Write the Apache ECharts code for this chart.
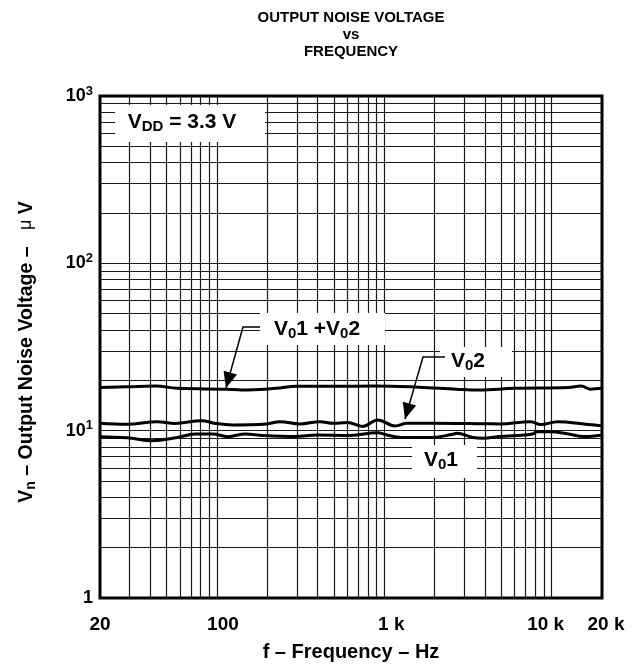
<!DOCTYPE html>
<html><head><meta charset="utf-8">
<script src="https://cdn.jsdelivr.net/npm/echarts@6/dist/echarts.min.js"></script>
<style>html,body{margin:0;padding:0;background:#fff}#c{width:642px;height:668px}</style>
</head><body><div id="c"></div>
<script>
const FONT = '"Liberation Sans", Arial, Helvetica, sans-serif';

const titleLines = ['OUTPUT NOISE VOLTAGE', 'vs', 'FREQUENCY'];
const xTickLabels = {20: '{c|20}', 100: '{r1|100}', 1000: '{r2|1 k}', 10000: '{l1|10 k}', 20000: '{r3|20 k}'};
const yTickLabels = {1: '1', 10: '10{sup|1}', 100: '10{sup|2}', 1000: '10{sup|3}'};

// V01 + V02
const sumFreq = [20, 29, 43, 58, 116, 140, 225, 300, 500, 870, 1600, 2700, 3700, 6000, 12600, 15000, 17000, 20000];
const sumVals = [18.1, 18.3, 18.5, 17.9, 17.7, 17.5, 17.9, 18.4, 18.4, 18.5, 18.2, 17.7, 17.5, 17.9, 18.1, 18.5, 17.7, 17.9];
// V02
const v02Freq = [20, 29, 44, 56, 81, 98, 124, 198, 238, 313, 413, 494, 602, 740, 913, 1160, 1370, 1950, 3900, 4900, 7500, 8600, 10900, 15600, 20000];
const v02Vals = [11.07, 10.92, 11.32, 11.04, 11.48, 11.04, 10.82, 10.96, 11.32, 10.96, 11.32, 11.07, 11.19, 10.6, 11.59, 10.67, 11.07, 11.07, 11.0, 10.96, 11.32, 10.87, 11.32, 10.96, 10.67];
// V01
const v01Freq = [20, 29, 41, 58, 74, 94, 116, 148, 188, 294, 397, 626, 909, 1040, 1250, 1950, 2570, 2710, 3390, 3880, 4920, 6200, 7700, 8200, 9760, 12600, 15600, 20000];
const v01Vals = [9.21, 9.08, 8.71, 9.11, 9.56, 9.56, 9.21, 9.56, 9.36, 9.23, 9.43, 9.36, 9.73, 9.43, 9.13, 9.11, 9.52, 9.65, 9.11, 9.01, 9.23, 9.36, 9.56, 9.86, 9.86, 9.56, 9.23, 9.43];

const gridXValues = [30, 40, 50, 60, 70, 80, 90, 100, 200, 300, 400, 500, 600, 700, 800, 900, 1000, 2000, 3000, 4000, 5000, 6000, 7000, 8000, 9000, 10000];
const gridYValues = [2, 3, 4, 5, 6, 7, 8, 9, 10, 20, 30, 40, 50, 60, 70, 80, 90, 100, 200, 300, 400, 500, 600, 700, 800, 900];

const chart = echarts.init(document.getElementById('c'), null, {renderer: 'canvas'});

function pairs(f, v) { return f.map((x, i) => [x, v[i]]); }
function nearestKey(map, v) {
  let best = null, bd = Infinity;
  Object.keys(map).forEach(k => { const d = Math.abs(Math.log10(+k) - Math.log10(v)); if (d < bd) { bd = d; best = k; } });
  return bd < 0.01 ? map[best] : '';
}
function arrowHead(from, tip, len, half) {
  const dx = tip[0] - from[0], dy = tip[1] - from[1];
  const l = Math.sqrt(dx * dx + dy * dy), ux = dx / l, uy = dy / l;
  const bx = tip[0] - ux * len, by = tip[1] - uy * len;
  return [tip, [bx - uy * half, by + ux * half], [bx + uy * half, by - ux * half]];
}

const lbl = (size) => ({fontFamily: FONT, fontWeight: 'bold', fontSize: size, color: '#000', fill: '#000'});
const richLabel = {
  b: lbl(21),
  s: Object.assign(lbl(15), {padding: [9, 0, 0, 0]})
};
const tickRich = (pl, pr) => Object.assign(lbl(19), {padding: [0, pr, 0, pl]});

const lineStyleCurve = {color: '#000', width: 3};
const gridLineStyle = {color: '#1a1a1a', width: 1.2, type: 'solid'};

function textBox(cx, cy, x0, y0, x1, y1, text) {
  return {
    type: 'group', z: 100,
    children: [
      {type: 'rect', shape: {x: x0, y: y0, width: x1 - x0, height: y1 - y0}, style: {fill: '#fff'}, z: 100},
      {type: 'text', z: 101, style: {text: text, x: cx, y: cy, textAlign: 'center', textVerticalAlign: 'middle', rich: richLabel, fill: '#000'}}
    ]
  };
}

const a1 = [[260, 327], [243, 327], [226, 388]];
const a2 = [[445, 357], [423, 357], [405, 419]];

const option = {
  animation: false,
  backgroundColor: '#fff',
  grid: {left: 100, right: 40, top: 96, bottom: 70, show: true, borderColor: '#000', borderWidth: 3, backgroundColor: 'transparent'},
  xAxis: {
    type: 'log', logBase: 10, min: 20, max: 20000,
    axisLine: {show: false}, axisTick: {show: false}, splitLine: {show: false},
    axisLabel: {
      margin: 17, hideOverlap: false, showMinLabel: true, showMaxLabel: true,
      fontFamily: FONT, fontWeight: 'bold', fontSize: 19, color: '#000',
      formatter: v => nearestKey(xTickLabels, v),
      rich: {c: tickRich(0, 0), r1: tickRich(12, 0), r2: tickRich(14, 0), l1: tickRich(0, 12), r3: tickRich(8, 0)}
    },
    name: 'f – Frequency – Hz', nameLocation: 'middle', nameGap: 44,
    nameTextStyle: {fontFamily: FONT, fontWeight: 'bold', fontSize: 20, color: '#000'}
  },
  yAxis: {
    type: 'log', logBase: 10, min: 1, max: 1000,
    axisLine: {show: false}, axisTick: {show: false}, splitLine: {show: false},
    axisLabel: {
      margin: 7, fontFamily: FONT, fontWeight: 'bold', fontSize: 18, color: '#000',
      formatter: v => nearestKey(yTickLabels, v),
      rich: {sup: {fontFamily: FONT, fontWeight: 'bold', fontSize: 13, color: '#000', padding: [0, 0, 10, 0]}}
    },
    name: '{b|V}{s|n}{b| – Output Noise Voltage –   }{mu|μ}{b| V}', nameLocation: 'middle', nameGap: 62, nameRotate: 90,
    nameTextStyle: {
      padding: [0, 10, 0, 0],
      rich: {
        b: lbl(19.5),
        s: Object.assign(lbl(14), {padding: [9, 0, 0, 0]}),
        mu: {fontFamily: FONT, fontWeight: 'normal', fontSize: 18, color: '#000'}
      }
    }
  },
  series: [
    {
      type: 'line', name: 'grid', data: [], z: 1, silent: true,
      markLine: {
        silent: true, symbol: 'none', label: {show: false}, lineStyle: gridLineStyle, z: 1,
        data: gridXValues.map(v => ({xAxis: v})).concat(gridYValues.map(v => ({yAxis: v})))
      }
    },
    {type: 'line', name: 'V01+V02', data: pairs(sumFreq, sumVals), showSymbol: false, smooth: 0.4, lineStyle: lineStyleCurve, z: 5},
    {type: 'line', name: 'V02', data: pairs(v02Freq, v02Vals), showSymbol: false, smooth: 0.4, lineStyle: lineStyleCurve, z: 5},
    {type: 'line', name: 'V01', data: pairs(v01Freq, v01Vals), showSymbol: false, smooth: 0.4, lineStyle: lineStyleCurve, z: 5}
  ],
  graphic: [
    {
      type: 'text', z: 100,
      style: {text: titleLines.join('\n'), x: 351, y: 9, textAlign: 'center', textVerticalAlign: 'top',
        font: 'bold 15px ' + FONT, lineHeight: 17, fill: '#000'}
    },
    textBox(182, 122, 115, 105, 265, 142, '{b|V}{s|DD}{b| = 3.3 V}'),
    textBox(317, 329, 260, 313, 385, 345, '{b|V}{s|0}{b|1 +V}{s|0}{b|2}'),
    textBox(468, 361, 440, 347, 512, 377, '{b|V}{s|0}{b|2}'),
    textBox(441, 460, 412, 445, 477, 478, '{b|V}{s|0}{b|1}'),
    {type: 'polyline', z: 102, shape: {points: a1}, style: {stroke: '#000', lineWidth: 1.5, fill: null}},
    {type: 'polygon', z: 102, shape: {points: arrowHead(a1[1], a1[2], 16, 7)}, style: {fill: '#000'}},
    {type: 'polyline', z: 102, shape: {points: a2}, style: {stroke: '#000', lineWidth: 1.5, fill: null}},
    {type: 'polygon', z: 102, shape: {points: arrowHead(a2[1], a2[2], 16, 7)}, style: {fill: '#000'}}
  ]
};
chart.setOption(option);
</script>
</body></html>
